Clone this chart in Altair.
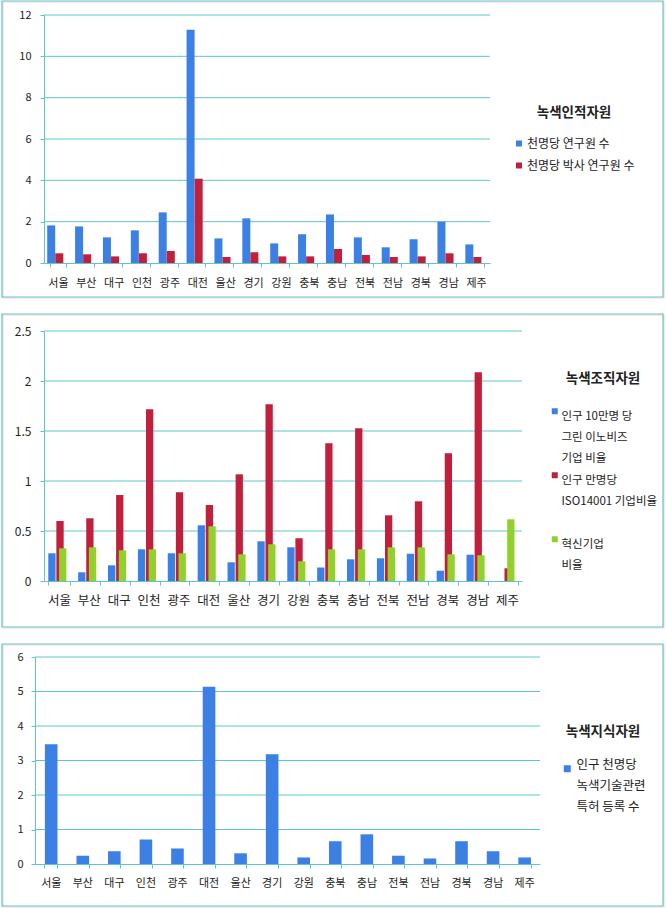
import altair as alt
import pandas as pd

regions = ["서울", "부산", "대구", "인천", "광주", "대전", "울산", "경기",
           "강원", "충북", "충남", "전북", "전남", "경북", "경남", "제주"]

# Panel 1: 녹색인적자원
p1_title = "녹색인적자원"
p1_series = ["천명당 연구원 수", "천명당 박사 연구원 수"]
p1_researchers = [1.82, 1.77, 1.24, 1.58, 2.45, 11.29, 1.19, 2.16, 0.95, 1.39, 2.35, 1.24, 0.76, 1.15, 2.00, 0.90]
p1_phd = [0.47, 0.42, 0.32, 0.47, 0.58, 4.08, 0.29, 0.52, 0.32, 0.32, 0.68, 0.39, 0.29, 0.32, 0.47, 0.29]
p1_ticks = [0, 2, 4, 6, 8, 10, 12]

# Panel 2: 녹색조직자원
p2_title = "녹색조직자원"
p2_series = ["인구 10만명 당|그린 이노비즈|기업 비율", "인구 만명당|ISO14001 기업비율| ", "혁신기업|비율"]
p2_innobiz = [0.277, 0.087, 0.157, 0.317, 0.277, 0.557, 0.187, 0.397, 0.337, 0.135, 0.217, 0.227, 0.273, 0.103, 0.263, 0.0]
p2_iso = [0.60, 0.627, 0.86, 1.717, 0.887, 0.76, 1.067, 1.767, 0.427, 1.378, 1.527, 0.657, 0.797, 1.277, 2.087, 0.127]
p2_innov = [0.327, 0.337, 0.307, 0.317, 0.277, 0.547, 0.267, 0.367, 0.197, 0.317, 0.317, 0.337, 0.337, 0.267, 0.257, 0.617]
p2_ticks = [0, 0.5, 1, 1.5, 2, 2.5]

# Panel 3: 녹색지식자원
p3_title = "녹색지식자원"
p3_series = ["인구 천명당|녹색기술관련|특허 등록 수"]
p3_patents = [3.47, 0.24, 0.37, 0.71, 0.45, 5.14, 0.31, 3.18, 0.19, 0.66, 0.86, 0.24, 0.16, 0.66, 0.37, 0.19]
p3_ticks = [0, 1, 2, 3, 4, 5, 6]

TEAL = "#5ec6c8"
PINK = "#f9d6e0"
BLUE = "#3c80e6"
RED = "#c0203c"
GREEN = "#92d02c"
FONT = "Noto Sans CJK KR"
TXT = "#222222"


def make_panel(series, values, colors, w, h, ticks, fmt, pad_inner, bar_w,
               xfs, yfs, xlabpad, ylabpad, frame, title, lx, ly,
               title_pad, lab_fs, row_pad, baseline, lab_off, sym_size, shift=0):
    rows = []
    for s, vals in zip(series, values):
        for r, v in zip(regions, vals):
            rows.append({"region": r, "series": s, "value": v})
    df = pd.DataFrame(rows)

    xscale = alt.Scale(paddingInner=pad_inner, paddingOuter=pad_inner / 2)
    if shift:
        xscale = alt.Scale(paddingInner=pad_inner, paddingOuter=pad_inner / 2,
                           range=[-shift, w])

    yaxis_kw = dict(title=None, values=ticks, format=fmt, grid=False,
                    domainColor=TEAL, tickColor=TEAL, tickSize=4,
                    labelFont=FONT, labelFontSize=yfs, labelColor=TXT,
                    labelPadding=ylabpad, labelOverlap=False, labelLineHeight=12)
    if shift:
        yaxis_kw["offset"] = shift
    yscale = alt.Scale(domain=[0, ticks[-1]], nice=False)

    bars = alt.Chart(df).mark_bar(width=bar_w).encode(
        x=alt.X("region:N", sort=regions, scale=xscale,
                axis=alt.Axis(title=None, labelAngle=0, tickBand="extent",
                              domainColor=TEAL, tickColor=TEAL, tickSize=4,
                              labelFont=FONT, labelFontSize=xfs, labelColor=TXT,
                              labelPadding=xlabpad, grid=False, labelLineHeight=12)),
        xOffset=alt.XOffset("series:N", sort=series,
                            scale=alt.Scale(paddingInner=0, paddingOuter=0)),
        y=alt.Y("value:Q", scale=yscale, axis=alt.Axis(**yaxis_kw)),
        color=alt.Color("series:N", sort=series,
                        scale=alt.Scale(domain=series, range=colors),
                        legend=alt.Legend(
                            orient="none", legendX=lx, legendY=ly,
                            title=title, titleAnchor="middle", titleFont=FONT,
                            titleFontSize=13.5, titleFontWeight="bold", titleColor=TXT,
                            titlePadding=title_pad, padding=0,
                            labelFont=FONT, labelFontSize=lab_fs, labelColor=TXT,
                            labelLimit=400, labelBaseline=baseline, labelOffset=lab_off,
                            labelExpr="split(datum.label, '|')",
                            symbolType="square", symbolSize=sym_size, symbolStrokeWidth=0,
                            rowPadding=row_pad)),
    )

    grid_df = pd.DataFrame({"value": ticks[1:]})
    grid = alt.Chart(grid_df).mark_rule(color=TEAL, strokeWidth=1).encode(
        y=alt.Y("value:Q", scale=yscale, axis=alt.Axis(**yaxis_kw)),
        x=alt.value(-shift), x2=alt.value(w))

    fdata = alt.Data(values=[{"f": 1}])
    x0, x1, y0, y1 = frame
    fpink = alt.Chart(fdata).mark_rect(fill="transparent", stroke=PINK, strokeWidth=1.2).encode(
        x=alt.value(x0 + 1), x2=alt.value(x1 + 1), y=alt.value(y0 + 1), y2=alt.value(y1 + 1))
    fteal = alt.Chart(fdata).mark_rect(fill="transparent", stroke=TEAL, strokeWidth=1.2).encode(
        x=alt.value(x0), x2=alt.value(x1), y=alt.value(y0), y2=alt.value(y1))

    return alt.layer(grid, bars, fpink, fteal).properties(width=w, height=h)


panel1 = make_panel(p1_series, [p1_researchers, p1_phd], [BLUE, RED], 446, 248,
                    p1_ticks, "d", 0.42, 8, 11, 11, 10, 9, (-42, 619, -14, 282),
                    p1_title, 469, 91, 18, 12, 10, "middle", 2, 36)

panel2 = make_panel(p2_series, [p2_innobiz, p2_iso, p2_innov], [BLUE, RED, GREEN], 478, 250,
                    p2_ticks, ".1~f", 0.26, 7.3, 12.5, 12, 9, 9, (-42, 619, -17, 296),
                    p2_title, 505, 41, 20, 11.5, 4, "top", 1, 36)

panel3 = make_panel(p3_series, [p3_patents], [BLUE], 496, 207,
                    p3_ticks, "d", 0.6, 12.6, 11, 11, 9, 8, (-42, 619, -13, 249),
                    p3_title, 517, 68, 24, 12.5, 10, "alphabetic", 3, 49, shift=9)

chart = alt.vconcat(panel1, panel2, panel3, spacing=14).resolve_scale(
    color="independent").properties(
    padding={"left": 1, "top": 0, "right": 0, "bottom": 0},
    background="white",
).configure(style={"guide-label": {"lineHeight": 21}}).configure_view(stroke=None)

chart.save("out.html", embed_options={"renderer": "svg", "actions": False})
